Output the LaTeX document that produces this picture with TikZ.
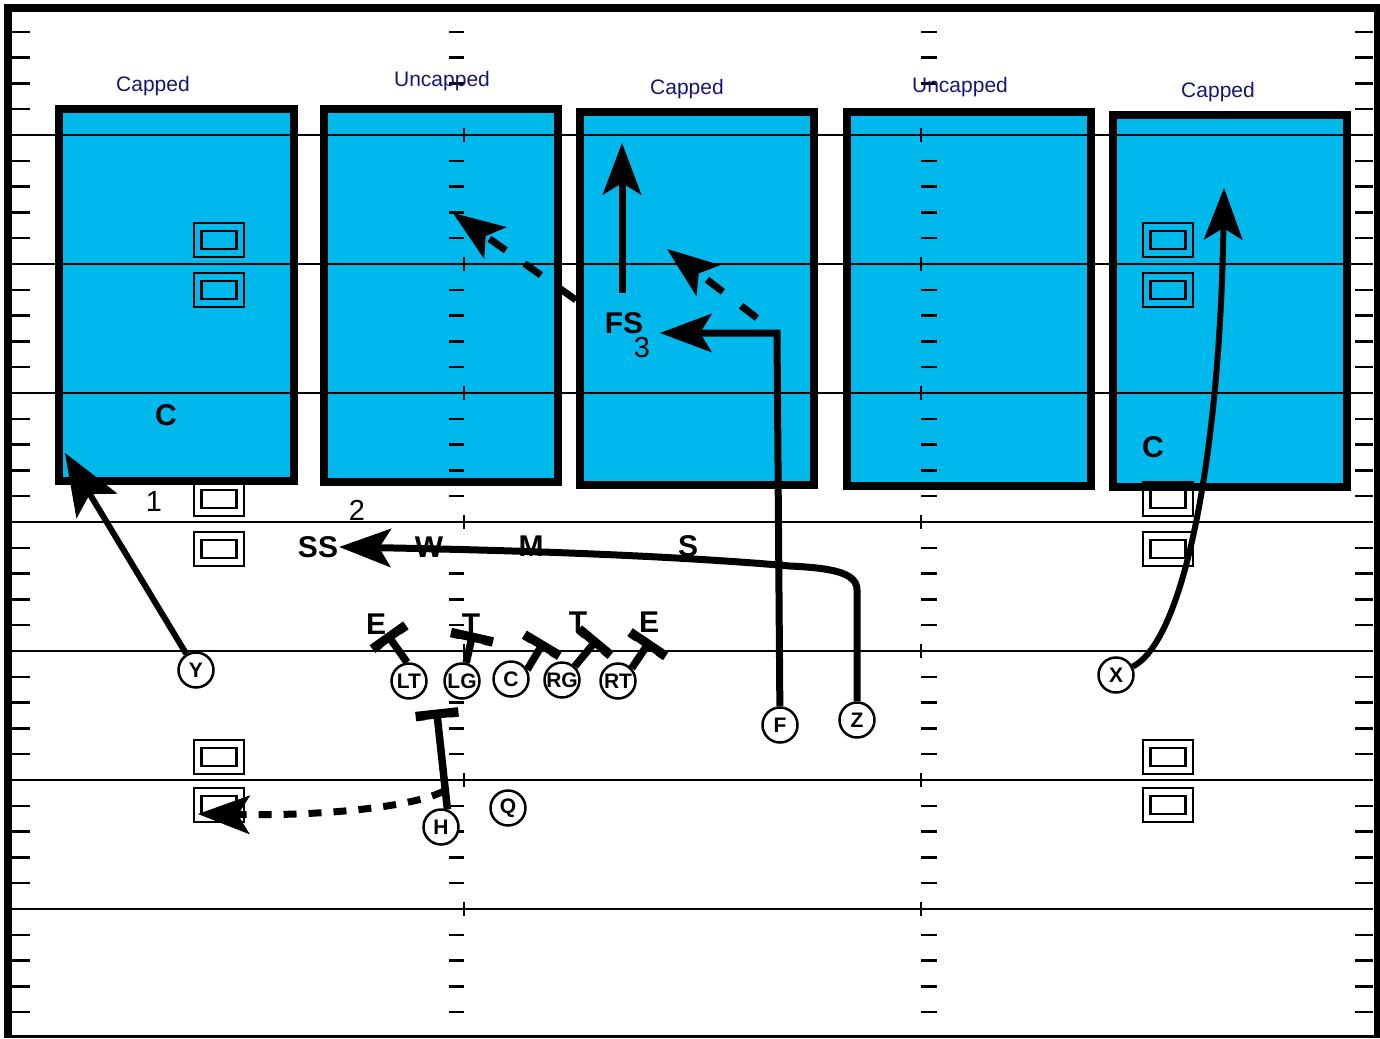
\documentclass[tikz,border=0pt]{standalone}
\usepackage{fontspec}
\setmainfont{Liberation Sans}
\usetikzlibrary{arrows.meta,calc}
\definecolor{zoneblue}{RGB}{0,185,236}
\definecolor{capnavy}{RGB}{22,22,112}
\newcommand\blockline[3]{%
  \draw[blkstem] (#1) -- (#2);
  \draw[blkbar] ($(#2)!#3!90:(#1)+(#2)!5pt!(#1)-(#2)$) -- ($(#2)!#3!90:(#1)$) -- ($(#2)!#3!-90:(#1)$) -- ($(#2)!#3!-90:(#1)+(#2)!5pt!(#1)-(#2)$);
}
\begin{document}
\begin{tikzpicture}[x=1pt,y=-1pt,
  zone/.style={fill=zoneblue,draw=black,line width=8pt},
  yardline/.style={line width=2pt},
  tick/.style={line width=2.5pt},
  marker/.style={line width=2.5pt},
  zlabel/.style={text=capnavy,font=\fontsize{21}{24}\selectfont,anchor=base,inner sep=0pt},
  deflabel/.style={font=\bfseries\fontsize{30}{32}\selectfont,inner sep=1pt},
  numlabel/.style={font=\fontsize{29}{32}\selectfont,inner sep=1pt},
  player/.style={circle,draw=black,fill=white,line width=2.5pt,minimum size=35pt,inner sep=0pt,font=\bfseries\fontsize{21}{22}\selectfont},
  route/.style={line width=7pt,-{Stealth[length=52pt,width=39pt,inset=12pt,line width=1pt]}},
  droute/.style={route,dash pattern=on 20pt off 23pt},
  hroute/.style={route,dash pattern=on 13pt off 12pt},
  blkstem/.style={line width=7.5pt},
  blkbar/.style={line width=9pt,line join=miter},
]
\useasboundingbox (0,0) rectangle (1380,1038);

% zones
\draw[zone] (59,109) rectangle (294,481);
\draw[zone] (323.5,109) rectangle (557.5,482);
\draw[zone] (580,112) rectangle (814,485);
\draw[zone] (846.5,112) rectangle (1091,486);
\draw[zone] (1113,115) rectangle (1347,487);

% field lines and hash marks
\foreach \k in {-4,...,34}{
  \pgfmathsetmacro\yy{135+25.8*\k}
  \pgfmathtruncatemacro\m{mod(\k+5,5)}
  \ifnum\m=0
    \draw[yardline] (12,\yy) -- (1373,\yy);
    \draw[tick] (464,\yy-7) -- (464,\yy+7);
    \draw[tick] (921,\yy-7) -- (921,\yy+7);
  \else
    \draw[tick] (12,\yy) -- (30,\yy);
    \draw[tick] (449,\yy) -- (464,\yy);
    \draw[tick] (921,\yy) -- (937,\yy);
    \draw[tick] (1355,\yy) -- (1373,\yy);
  \fi
}

% frame
\draw[line width=8pt] (4,8) -- (1380,8);
\draw[line width=8pt] (8,4) -- (8,1038);
\draw[line width=7pt] (1377,4) -- (1377,1038);
\draw[line width=3pt] (8,1036) -- (1377,1036);

% yard markers
\foreach \x in {219,1168}{
  \foreach \y in {240,290,499,549,757,805}{
    \draw[marker] (\x-25,\y-17) rectangle (\x+25,\y+17);
    \draw[marker] (\x-17.5,\y-9) rectangle (\x+17.5,\y+9);
  }
}

% zone labels
\node[zlabel] (zA) at (153,92) {Capped};
\node[zlabel] (zB) at (442,87) {Uncapped};
\node[zlabel] (zC) at (687,95) {Capped};
\node[zlabel] (zD) at (960,93) {Uncapped};
\node[zlabel] (zE) at (1218,98) {Capped};

% defenders
\node[deflabel] (C1) at (166,415) {C};
\node[deflabel] (C2) at (1153,447) {C};
\node[deflabel] (FS) at (624,323) {FS};
\node[numlabel] (n3) at (642,348) {3};
\node[numlabel] (n1) at (154,502) {1};
\node[numlabel] (n2) at (357,510) {2};
\node[deflabel] (SS) at (318,547) {SS};
\node[deflabel] (W) at (429,547) {W};
\node[deflabel] (M) at (531,546) {M};
\node[deflabel] (S) at (688,546) {S};
\node[deflabel] (E1) at (376,624) {E};
\node[deflabel] (T1) at (471,624) {T};
\node[deflabel] (T2) at (578,622) {T};
\node[deflabel] (E2) at (649,622) {E};

% offense
\node[player] (Y) at (196,670) {Y};
\node[player] (LT) at (409,681) {LT};
\node[player] (LG) at (462,681) {LG};
\node[player] (C) at (511,679) {C};
\node[player] (RG) at (562,680) {RG};
\node[player] (RT) at (618,681) {RT};
\node[player] (F) at (780,725) {F};
\node[player] (Z) at (857,720) {Z};
\node[player] (X) at (1116,675) {X};
\node[player] (H) at (441,827) {H};
\node[player] (Q) at (508,808) {Q};

% route coordinates
\coordinate (yTip) at (65,453);
\coordinate (fTurn) at (777,333);
\coordinate (fTip) at (660,333);
\coordinate (fsBase) at (622,293);
\coordinate (fsTip) at (622,143);
\coordinate (d1s) at (757,318);
\coordinate (d1t) at (667,249);
\coordinate (d2s) at (576,300);
\coordinate (d2t) at (453,213);
\coordinate (xTip) at (1224,188);
\coordinate (hS) at (444,791);
\coordinate (hT) at (198,814);
\coordinate (ltB) at (389,637);
\coordinate (lgB) at (472,637);
\coordinate (cB) at (542,645);
\coordinate (rgB) at (595,642);
\coordinate (rtB) at (648,644);
\coordinate (hB) at (437,714);

% routes
\draw[route,line width=6pt,-{Stealth[length=62pt,width=48pt,inset=14pt,line width=1pt]}] (Y) -- (yTip);
\draw[route] (Z) -- (857,590) .. controls (857,572) and (830,568) .. (790,566)
  .. controls (700,558) and (560,551) .. (SS.east);
\draw[route] (F) -- (fTurn) -- (fTip);
\draw[route] (fsBase) -- (fsTip);
\draw[droute] (d1s) -- (d1t);
\draw[droute] (d2s) -- (d2t);
\draw[route,line width=6pt] (X) .. controls (1185,640) and (1220,450) .. (xTip);
\draw[hroute] (hS) .. controls (415,806) and (330,816) .. (hT);

% blocks
\blockline{LT.96}{ltB}{16pt}
\blockline{LG.77}{lgB}{17pt}
\blockline{C.30}{cB}{16pt}
\blockline{RG.47}{rgB}{16pt}
\blockline{RT.43}{rtB}{17pt}
\blockline{H.70}{hB}{17pt}
\end{tikzpicture}
\end{document}
